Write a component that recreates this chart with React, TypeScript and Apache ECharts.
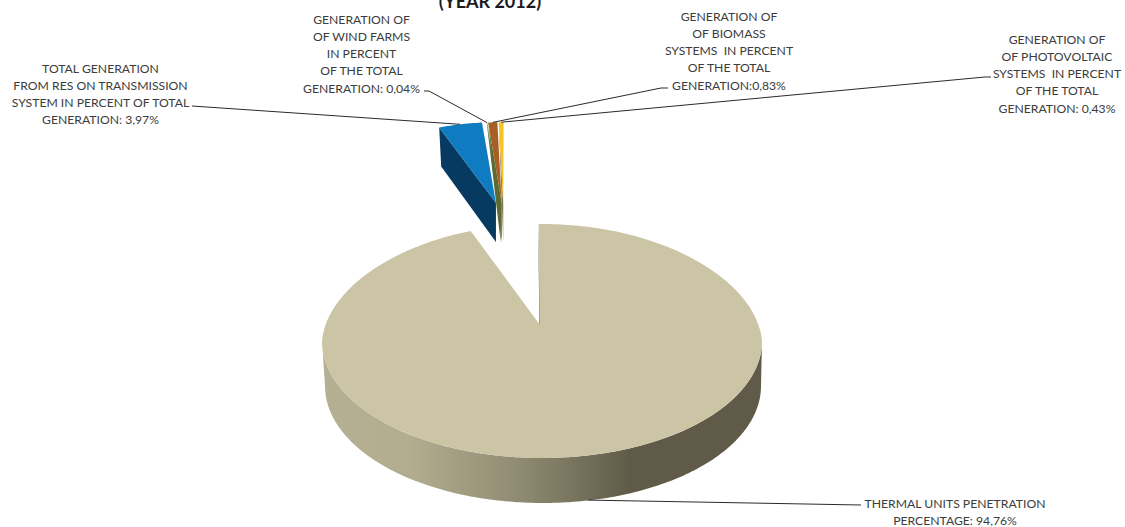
import React, { useEffect, useRef } from "react";
import * as echarts from "echarts";

const titleText = "(YEAR 2012)";
const categories = ["Thermal", "RES transmission", "Wind farms", "Biomass", "Photovoltaic"];
const shares = [94.76, 3.97, 0.04, 0.83, 0.43];
const labelLines = [
  ["THERMAL UNITS PENETRATION", "PERCENTAGE: 94,76%"],
  ["TOTAL GENERATION", "FROM RES ON TRANSMISSION", "SYSTEM IN PERCENT OF TOTAL", "GENERATION: 3,97%"],
  ["GENERATION OF", "OF WIND FARMS", "IN PERCENT", "OF THE TOTAL", "GENERATION: 0,04%"],
  ["GENERATION OF", "OF BIOMASS", "SYSTEMS  IN PERCENT", "OF THE TOTAL", "GENERATION:0,83%"],
  ["GENERATION OF", "OF PHOTOVOLTAIC", "SYSTEMS  IN PERCENT", "OF THE TOTAL", "GENERATION: 0,43%"],
];
const faceColors = ["#cbc4a5", "#0f7bc0", "#5a6b33", "#a85f24", "#f6c322"];
const wallColors = ["#55513f", "#063a60", "#5a6b33", "#5a6b33", "#8a7350"];

// label block placement: centre x, first line y, leader start [[x, y], ...]
const labelBoxes = [
  { cx: 955, y0: 503, lead: [[861, 505]] },
  { cx: 100.5, y0: 68, lead: [[192, 106]] },
  { cx: 361.5, y0: 19, lead: [[424, 91], [429, 91]] },
  { cx: 729, y0: 16, lead: [[668, 88], [661, 88]] },
  { cx: 1057, y0: 39, lead: [[991, 77], [985, 77]] },
];

const TOP = { cx: 542, cy: 341, rx: 220, ry: 117 };
const BOTTOM = { cx: 543, cy: 386, rx: 218, ry: 117 };
const MAIN_APEX = [540, 325];
const LITTLE_SCALE = 0.8;
const LITTLE_DEPTH = 39;
const BACK_WARP = 0.05;
const rad = (d: number) => (d * Math.PI) / 180;
const onEllipse = (e: typeof TOP, a: number) => [e.cx + e.rx * Math.sin(rad(a)), e.cy - e.ry * Math.cos(rad(a))];
// the far half of the drum narrows a little, as in a perspective view
const onFace = (a: number) => {
  const c = Math.cos(rad(a));
  const f = c > 0 ? 1 - BACK_WARP * c : 1;
  return [TOP.cx + TOP.rx * Math.sin(rad(a)) * f, TOP.cy - TOP.ry * c];
};

const total = shares.reduce((s, v) => s + v, 0);
const START = -0.9;
const LITTLE_TURN = 0.5;
const spans = (() => {
  let a = START;
  return shares.map((v, i) => {
    const s = a;
    a += (v / total) * 360;
    return i === 0 ? [s, a] : [s + LITTLE_TURN, a + LITTLE_TURN];
  });
})();

function littleApex(mid: number) {
  return [504 - 38 * Math.sin(rad(360 - mid)), 203];
}
function littleRim(apex: number[], a: number) {
  const p = onEllipse(TOP, a);
  return [apex[0] + LITTLE_SCALE * (p[0] - MAIN_APEX[0]), apex[1] + LITTLE_SCALE * (p[1] - MAIN_APEX[1])];
}

function arcPoints(from: number, to: number, fn: (a: number) => number[]) {
  const n = Math.max(2, Math.ceil(Math.abs(to - from)));
  const pts: number[][] = [];
  for (let i = 0; i <= n; i++) pts.push(fn(from + ((to - from) * i) / n));
  return pts;
}

function renderItem(params: any, api: any) {
  const i = params.dataIndex;
  const value = api.value(0);
  const [a0, a1] = spans[i];
  const sweep = (value / total) * 360;
  const mid = a0 + sweep / 2;
  const children: any[] = [];
  const box = labelBoxes[i];
  let anchor: number[];

  if (i === 0) {
    const front = arcPoints(90, 270, onFace);
    const back = arcPoints(270, 90, (a) => onEllipse(BOTTOM, a));
    children.push({
      type: "polygon",
      shape: { points: front.concat(back) },
      style: {
        fill: new echarts.graphic.LinearGradient(0, 0, 1, 0, [
          { offset: 0, color: "#b5b093" },
          { offset: 0.2, color: "#b2ad8f" },
          { offset: 0.45, color: "#8f8b72" },
          { offset: 0.7, color: "#5f5b48" },
          { offset: 1, color: "#5f5b48" },
        ]),
      },
    });
    const r0 = onFace(a0);
    children.push({
      type: "polygon",
      shape: {
        points: [r0, MAIN_APEX, [MAIN_APEX[0], MAIN_APEX[1] + 45], [r0[0], r0[1] + 45]],
      },
      style: { fill: wallColors[0] },
    });
    children.push({
      type: "polygon",
      shape: { points: [MAIN_APEX, ...arcPoints(a0, a1, onFace)] },
      style: { fill: faceColors[0] },
    });
    anchor = onEllipse(BOTTOM, mid);
    anchor = [anchor[0] + 6, anchor[1] - 1];
  } else {
    const apex = littleApex(mid);
    const rim0 = littleRim(apex, a0);
    const base = [apex[0], apex[1] + LITTLE_DEPTH];
    const wall =
      sweep > 10 ? [rim0, apex, base, [rim0[0] + 2, rim0[1] + LITTLE_DEPTH]] : [rim0, apex, base];
    children.push({ type: "polygon", shape: { points: wall }, style: { fill: wallColors[i] } });
    children.push({
      type: "polygon",
      shape: { points: [apex, ...arcPoints(a0, a1, (a) => littleRim(apex, a))] },
      style: { fill: faceColors[i] },
    });
    anchor = littleRim(apex, mid);
  }

  children.push({
    type: "polyline",
    z2: 5,
    shape: { points: [...box.lead, anchor] },
    style: { fill: "none", stroke: "#2a2a2a", lineWidth: 1 },
  });

  labelLines[i].forEach((t, k) => {
    children.push({
      type: "text",
      z2: 6,
      style: {
        text: t,
        x: box.cx,
        y: box.y0 + k * 17.3,
        textAlign: "center",
        textVerticalAlign: "middle",
        fontFamily: "Lato",
        fontSize: 12.2,
        fill: "#3c3c3c",
      },
    });
  });
  return { type: "group", children };
}

export default function App() {
  const ref = useRef<HTMLDivElement>(null);
  useEffect(() => {
    document.body.style.margin = "0";
    const chart = echarts.init(ref.current!, undefined, { renderer: "svg" });
    chart.setOption({
      animation: false,
      backgroundColor: "#ffffff",
      title: {
        text: titleText,
        left: 485,
        top: -13,
        textAlign: "center",
        textStyle: { fontFamily: "Lato", fontWeight: "bold", fontSize: 18, color: "#1a1a1a" },
      },
      series: [
        {
          type: "custom",
          coordinateSystem: "none",
          renderItem,
          data: categories.map((name, i) => ({ name, value: [shares[i]] })),
        },
      ],
    });
    return () => chart.dispose();
  }, []);
  return <div ref={ref} style={{ width: 1125, height: 527 }} />;
}
